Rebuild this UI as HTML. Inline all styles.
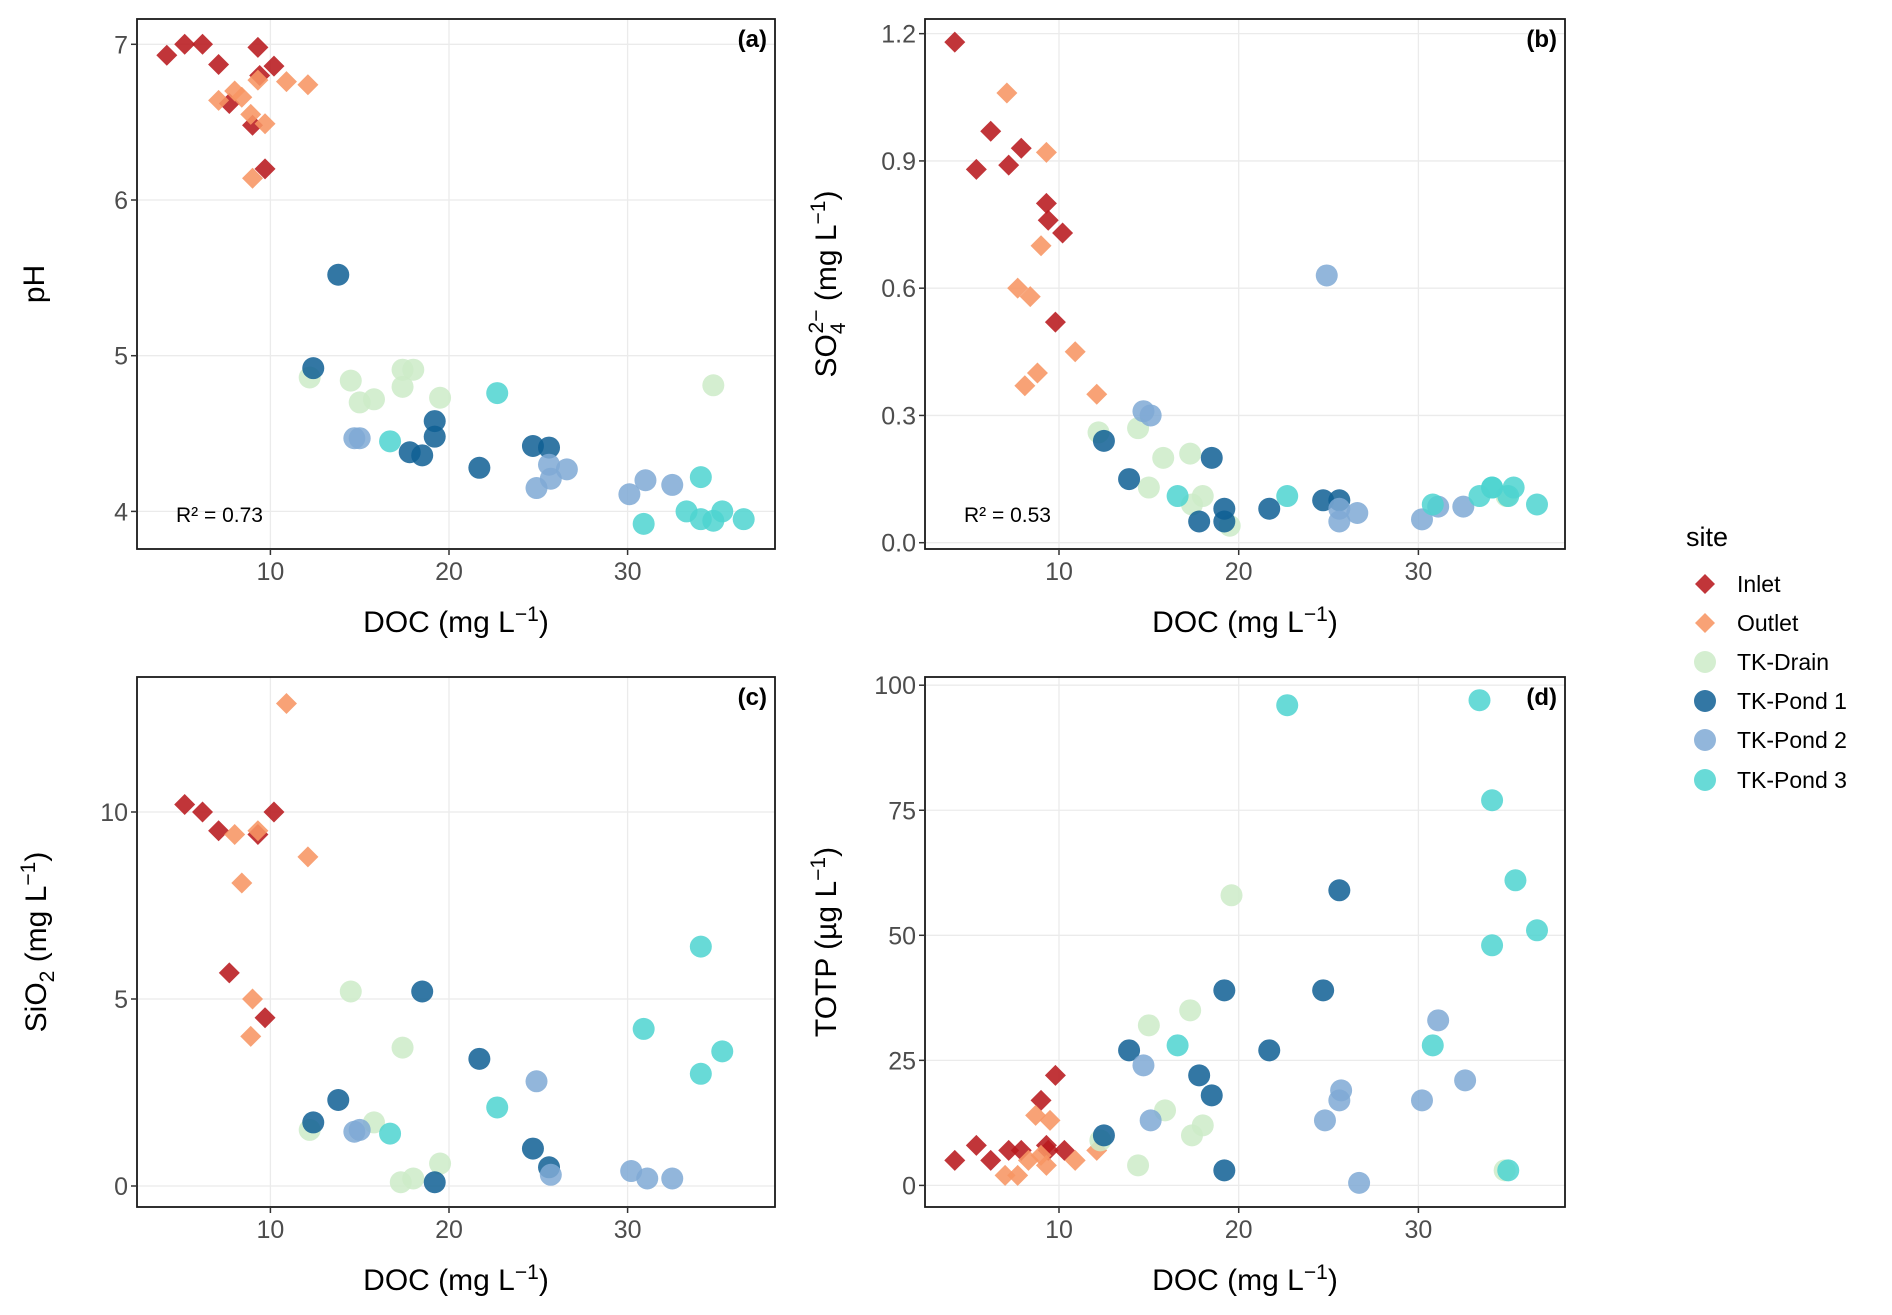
<!DOCTYPE html>
<html><head><meta charset="utf-8"><style>
html,body{margin:0;padding:0;background:#fff;}
svg{display:block;font-family:"Liberation Sans",Arial,sans-serif;}
</style></head><body>
<svg id="chart" width="1892" height="1315" viewBox="0 0 1892 1315" xmlns="http://www.w3.org/2000/svg"></svg>
<script>
const sites = ["Inlet","Outlet","TK-Drain","TK-Pond 1","TK-Pond 2","TK-Pond 3"];
const colors = ["#B8191E","#F79563","#CDEBC8","#0F5F94","#7FA9D5","#4ED3D0"];
const shapes = ["diamond","diamond","circle","circle","circle","circle"];

// Panel (a) pH
const aDocInlet=[4.2,5.2,6.2,7.1,7.7,9.3,9.4,9.0,10.2,9.7], aPhInlet=[6.93,7.0,7.0,6.87,6.62,6.98,6.8,6.48,6.86,6.2];
const aDocOutlet=[7.1,8.0,8.4,8.9,9.7,9.3,10.9,12.1,9.0], aPhOutlet=[6.64,6.7,6.66,6.55,6.49,6.77,6.76,6.74,6.14];
const aDocDrain=[12.2,14.5,15.0,15.8,17.4,17.4,18.0,19.5,34.8], aPhDrain=[4.86,4.84,4.70,4.72,4.80,4.91,4.91,4.73,4.81];
const aDocP1=[13.8,12.4,19.2,19.2,17.8,18.5,21.7,24.7,25.6], aPhP1=[5.52,4.92,4.58,4.48,4.38,4.36,4.28,4.42,4.41];
const aDocP2=[14.7,15.0,25.6,26.6,24.9,25.7,30.1,31.0,32.5], aPhP2=[4.47,4.47,4.30,4.27,4.15,4.21,4.11,4.20,4.17];
const aDocP3=[16.7,22.7,30.9,33.3,34.1,34.1,34.8,35.3,36.5], aPhP3=[4.45,4.76,3.92,4.0,4.22,3.95,3.94,4.0,3.95];

// Panel (b) SO4
const bDocInlet=[4.2,5.4,6.2,7.2,7.9,9.3,9.4,10.2,9.8], bSoInlet=[1.18,0.88,0.97,0.89,0.93,0.80,0.76,0.73,0.52];
const bDocOutlet=[7.1,9.3,7.7,8.4,9.0,8.1,8.8,10.9,12.1], bSoOutlet=[1.06,0.92,0.60,0.58,0.70,0.37,0.40,0.45,0.35];
const bDocDrain=[12.2,14.4,15.0,15.8,17.3,17.4,18.0,19.5,34.9], bSoDrain=[0.26,0.27,0.13,0.20,0.21,0.09,0.11,0.04,0.11];
const bDocP1=[12.5,13.9,17.8,18.5,19.2,19.2,21.7,24.7,25.6], bSoP1=[0.24,0.15,0.05,0.20,0.08,0.05,0.08,0.10,0.10];
const bDocP2=[14.7,15.1,24.9,25.6,25.6,26.6,30.2,31.1,32.5], bSoP2=[0.31,0.30,0.63,0.08,0.05,0.07,0.055,0.085,0.085];
const bDocP3=[16.6,22.7,30.8,33.4,34.1,34.1,35.3,36.6,35.0], bSoP3=[0.11,0.11,0.09,0.11,0.13,0.13,0.13,0.09,0.11];

// Panel (c) SiO2
const cDocInlet=[5.2,6.2,7.1,9.3,10.2,7.7,9.7], cSiInlet=[10.2,10.0,9.5,9.4,10.0,5.7,4.5];
const cDocOutlet=[10.9,8.0,9.3,12.1,8.4,9.0,8.9], cSiOutlet=[12.9,9.4,9.5,8.8,8.1,5.0,4.0];
const cDocDrain=[12.2,14.5,15.8,17.3,17.4,18.0,19.5], cSiDrain=[1.5,5.2,1.7,0.1,3.7,0.2,0.6];
const cDocP1=[12.4,13.8,18.5,19.2,21.7,24.7,25.6], cSiP1=[1.7,2.3,5.2,0.1,3.4,1.0,0.5];
const cDocP2=[14.7,15.0,24.9,25.7,30.2,31.1,32.5], cSiP2=[1.45,1.5,2.8,0.3,0.4,0.2,0.2];
const cDocP3=[16.7,22.7,30.9,34.1,34.1,35.3], cSiP3=[1.4,2.1,4.2,6.4,3.0,3.6];

// Panel (d) TOTP
const dDocInlet=[4.2,5.4,6.2,7.2,7.9,9.0,9.3,9.4,9.8,10.3], dTpInlet=[5,8,5,7,7,17,8,7,22,7];
const dDocOutlet=[7.0,7.7,8.3,8.7,9.0,9.5,9.3,10.9,12.1], dTpOutlet=[2,2,5,14,6,13,4,5,7];
const dDocDrain=[12.3,14.4,15.0,15.9,17.3,17.4,18.0,19.6,34.8], dTpDrain=[9,4,32,15,35,10,12,58,3];
const dDocP1=[12.5,13.9,17.8,18.5,19.2,19.2,21.7,24.7,25.6], dTpP1=[10,27,22,18,39,3,27,39,59];
const dDocP2=[14.7,15.1,24.8,25.6,25.7,26.7,30.2,31.1,32.6], dTpP2=[24,13,13,17,19,0.5,17,33,21];
const dDocP3=[16.6,22.7,30.8,33.4,34.1,34.1,35.4,36.6,35.0], dTpP3=[28,96,28,97,77,48,61,51,3];

const xTicks=[10,20,30];
const aTicks=[4,5,6,7], bTicks=[0.0,0.3,0.6,0.9,1.2], cTicks=[0,5,10], dTicks=[0,25,50,75,100];
const bTickLabels=["0.0","0.3","0.6","0.9","1.2"];

const NS="http://www.w3.org/2000/svg";
const svg=document.getElementById('chart');
function mk(tag,attrs,parent){const e=document.createElementNS(NS,tag);for(const k in attrs)e.setAttribute(k,attrs[k]);(parent||svg).appendChild(e);return e;}

function panel(cfg){
  const g=mk('g',{});
  
  
  const {L,R,T,B}=cfg;
  const xs=v=>cfg.x0+cfg.xk*v;
  const ys=v=>cfg.y0-cfg.yk*(v-cfg.yb);
  mk('rect',{x:L,y:T,width:R-L,height:B-T,fill:'#fff'},g);
  xTicks.forEach(t=>{
    const gl=mk('line',{x1:xs(t),x2:xs(t),y1:T,y2:B,stroke:'#ebebeb','stroke-width':1.3},g);
    
    
  });
  cfg.yticks.forEach(t=>{
    const gl=mk('line',{x1:L,x2:R,y1:ys(t),y2:ys(t),stroke:'#ebebeb','stroke-width':1.3},g);
    
    
  });
  cfg.series.forEach((s,si)=>{
    s[0].forEach((xv,i)=>{
      const px=xs(xv),py=ys(s[1][i]);
      let m;
      if(shapes[si]==='diamond'){
        const r=10.5;
        m=mk('polygon',{points:`${px},${py-r} ${px+r},${py} ${px},${py+r} ${px-r},${py}`,fill:colors[si],'fill-opacity':0.88},g);
      } else {
        m=mk('circle',{cx:px,cy:py,r:11,fill:colors[si],'fill-opacity':0.85},g);
      }
      
      
    });
  });
  const fr=mk('rect',{x:L,y:T,width:R-L,height:B-T,fill:'none',stroke:'#1a1a1a','stroke-width':1.8},g);
  
  
  xTicks.forEach(t=>{
    mk('line',{x1:xs(t),x2:xs(t),y1:B,y2:B+6,stroke:'#333','stroke-width':1.5},g);
    const tx=mk('text',{x:xs(t),y:B+31,'text-anchor':'middle','font-size':25,fill:'#4d4d4d'},g);
    tx.textContent=t;
    
    
  });
  cfg.yticks.forEach((t,i)=>{
    mk('line',{x1:L-6,x2:L,y1:ys(t),y2:ys(t),stroke:'#333','stroke-width':1.5},g);
    const tx=mk('text',{x:L-9,y:ys(t)+9,'text-anchor':'end','font-size':25,fill:'#4d4d4d'},g);
    tx.textContent=cfg.ylabels?cfg.ylabels[i]:t;
    
    
  });
  const xt=mk('text',{x:(L+R)/2,y:B+83,'text-anchor':'middle','font-size':30,fill:'#000'},g);
  xt.innerHTML='DOC (mg L<tspan dy="-11" font-size="21">−1</tspan><tspan dy="11">)</tspan>';
  
  
  const yt=mk('text',{x:0,y:0,'text-anchor':'middle','font-size':30,fill:'#000',transform:`translate(${cfg.ytx},${(T+B)/2}) rotate(-90)`},g);
  yt.innerHTML=cfg.ytitle;
  
  
  const pl=mk('text',{x:R-8,y:T+28,'text-anchor':'end','font-size':24,'font-weight':'bold',fill:'#000'},g);
  pl.textContent=cfg.label;
  
  
  if(cfg.r2){
    const r=mk('text',{x:L+39,y:B-27,'font-size':21,fill:'#000'},g);
    r.textContent=cfg.r2;
    
    
  }
}

panel({name:'panel-a-ph',L:137,R:775,T:19,B:549,x0:91.8,xk:17.86,y0:511.4,yk:155.7,yb:4,yticks:aTicks,ytx:44,
  ytitle:'pH',label:'(a)',r2:'R² = 0.73',
  series:[[aDocInlet,aPhInlet],[aDocOutlet,aPhOutlet],[aDocDrain,aPhDrain],[aDocP1,aPhP1],[aDocP2,aPhP2],[aDocP3,aPhP3]]});
panel({name:'panel-b-sulfate',L:925,R:1565,T:19,B:549,x0:879.3,xk:17.97,y0:542.7,yk:424.2,yb:0,yticks:bTicks,ylabels:bTickLabels,ytx:836,
  ytitle:'SO<tspan dy="9" font-size="21">4</tspan><tspan dy="-22" dx="-11" font-size="21">2−</tspan><tspan dy="13"> (mg L</tspan><tspan dy="-11" font-size="21">−1</tspan><tspan dy="11">)</tspan>',label:'(b)',r2:'R² = 0.53',
  series:[[bDocInlet,bSoInlet],[bDocOutlet,bSoOutlet],[bDocDrain,bSoDrain],[bDocP1,bSoP1],[bDocP2,bSoP2],[bDocP3,bSoP3]]});
panel({name:'panel-c-silica',L:137,R:775,T:677,B:1207,x0:91.8,xk:17.86,y0:1186,yk:37.4,yb:0,yticks:cTicks,ytx:46,
  ytitle:'SiO<tspan dy="8" font-size="21">2</tspan><tspan dy="-8"> (mg L</tspan><tspan dy="-11" font-size="21">−1</tspan><tspan dy="11">)</tspan>',label:'(c)',
  series:[[cDocInlet,cSiInlet],[cDocOutlet,cSiOutlet],[cDocDrain,cSiDrain],[cDocP1,cSiP1],[cDocP2,cSiP2],[cDocP3,cSiP3]]});
panel({name:'panel-d-totp',L:925,R:1565,T:677,B:1207,x0:879.3,xk:17.97,y0:1185.4,yk:5.002,yb:0,yticks:dTicks,ytx:836,
  ytitle:'TOTP (µg L<tspan dy="-11" font-size="21">−1</tspan><tspan dy="11">)</tspan>',label:'(d)',
  series:[[dDocInlet,dTpInlet],[dDocOutlet,dTpOutlet],[dDocDrain,dTpDrain],[dDocP1,dTpP1],[dDocP2,dTpP2],[dDocP3,dTpP3]]});

const lg=mk('g',{});


const lt=mk('text',{x:1686,y:546,'font-size':27,fill:'#000'},lg);
lt.textContent='site';


const legY=[584,623,662,701,740,780];
sites.forEach((s,i)=>{
  const e=mk('g',{},lg);
  
  
  const cx=1705,cy=legY[i];
  if(shapes[i]==='diamond'){const r=10;mk('polygon',{points:`${cx},${cy-r} ${cx+r},${cy} ${cx},${cy+r} ${cx-r},${cy}`,fill:colors[i],'fill-opacity':0.88},e);}
  else mk('circle',{cx:cx,cy:cy,r:11,fill:colors[i],'fill-opacity':0.85},e);
  const t=mk('text',{x:1737,y:cy+8,'font-size':23,fill:'#000'},e);
  t.textContent=s;
});
</script>
</body></html>
